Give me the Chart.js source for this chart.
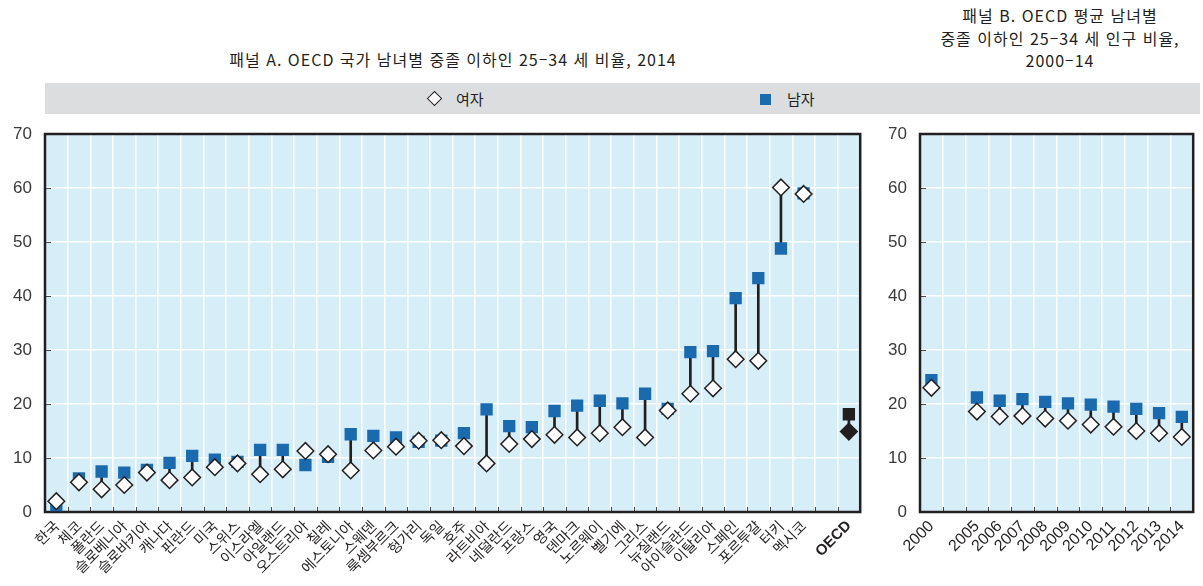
<!DOCTYPE html>
<html lang="ko">
<head>
<meta charset="utf-8">
<title>OECD 남녀별 중졸 이하 25-34 세 비율</title>
<script src="https://cdn.jsdelivr.net/npm/chart.js@4.4.1/dist/chart.umd.min.js"></script>
<style>
    html, body { margin: 0; padding: 0; background: #fff; }
    #page {
        position: relative;
        width: 1203px;
        height: 586px;
        overflow: hidden;
        font-family: "Noto Sans CJK KR", sans-serif;
        color: #231f20;
    }
    .title {
        position: absolute;
        text-align: center;
        font-size: 16px;
        letter-spacing: 1px;
        line-height: 22.5px;
        white-space: nowrap;
    }
    #title-a { left: 153px; width: 600px; top: 48px; }
    #title-b { left: 910px; width: 300px; top: 4px; }
    #band {
        position: absolute;
        left: 45px;
        top: 83px;
        width: 1155px;
        height: 31px;
        background: #dcdddf;
    }
    .legend-text {
        position: absolute;
        top: 88px;
        font-size: 15px;
        line-height: 22px;
    }
    .diamond {
        position: absolute;
        width: 9px;
        height: 9px;
        background: #fff;
        border: 1.5px solid #231f20;
        transform: rotate(45deg);
    }
    .square {
        position: absolute;
        width: 11px;
        height: 11px;
        background: #1a6aaf;
    }
    canvas { position: absolute; top: 0; }
</style>
</head>
<body>
<div id="page">
    <div id="title-a" class="title">패널 A. OECD 국가 남녀별 중졸 이하인 25–34 세 비율, 2014</div>
    <div id="title-b" class="title">패널 B. OECD 평균 남녀별<br>중졸 이하인 25–34 세 인구 비율,<br>2000–14</div>
    <div id="band"></div>
    <div class="diamond" style="left:429px; top:93px;"></div>
    <div class="legend-text" style="left:456px;">여자</div>
    <div class="square" style="left:760px; top:94px;"></div>
    <div class="legend-text" style="left:787px;">남자</div>
    <canvas id="chart-a" width="870" height="586" style="left:0;"></canvas>
    <canvas id="chart-b" width="333" height="586" style="left:870px;"></canvas>
</div>

<script>
// 패널 A: 국가별, 2014
const countries = ['한국', '체코', '폴란드', '슬로베니아', '슬로바키아', '캐나다', '핀란드', '미국',
    '스위스', '이스라엘', '아일랜드', '오스트리아', '칠레', '에스토니아', '스웨덴', '룩셈부르크',
    '헝가리', '독일', '호주', '라트비아', '네덜란드', '프랑스', '영국', '덴마크', '노르웨이',
    '벨기에', '그리스', '뉴질랜드', '아이슬란드', '이탈리아', '스페인', '포르투갈', '터키',
    '멕시코', '', 'OECD'];
const womenA = [2.0, 5.5, 4.2, 5.0, 7.3, 5.9, 6.4, 8.3, 9.0, 7.0, 7.9, 11.3, 10.7, 7.7, 11.4, 12.1,
    13.2, 13.3, 12.2, 9.0, 12.6, 13.5, 14.3, 13.8, 14.6, 15.7, 13.8, 18.8, 21.9, 22.9, 28.3, 28.0,
    60.1, 58.9, null, 14.9];
const menA = [1.3, 6.2, 7.5, 7.3, 7.8, 9.1, 10.4, 9.7, 9.3, 11.5, 11.5, 8.7, 10.2, 14.4, 14.1, 13.8,
    13.0, 13.2, 14.6, 19.0, 15.9, 15.7, 18.7, 19.7, 20.6, 20.1, 21.9, 19.1, 29.6, 29.8, 39.6, 43.3,
    48.8, 59.0, null, 18.1];

// 패널 B: OECD 평균, 2000-14
const years = ['2000', '', '2005', '2006', '2007', '2008', '2009', '2010', '2011', '2012', '2013', '2014'];
const womenB = [23.0, null, 18.6, 17.7, 17.8, 17.3, 16.9, 16.2, 15.8, 15.0, 14.6, 13.9];
const menB = [24.4, null, 21.2, 20.6, 20.9, 20.4, 20.1, 19.9, 19.5, 19.1, 18.3, 17.6];

const yTicks = [0, 10, 20, 30, 40, 50, 60, 70];

const BLUE = '#1a6aaf';
const INK = '#231f20';
const PLOT_BG = '#d6eef8';

// 플롯 배경, 테두리, 안쪽 눈금
const panelFrame = {
    id: 'panelFrame',
    beforeDraw(chart) {
        const { ctx, chartArea: a } = chart;
        ctx.save();
        ctx.fillStyle = PLOT_BG;
        ctx.fillRect(a.left, a.top, a.width, a.height);
        ctx.restore();
    },
    beforeDatasetsDraw(chart) {
        const { ctx, chartArea: a, scales } = chart;
        const n = scales.x.getLabels().length;
        const step = a.width / n;
        ctx.save();
        ctx.strokeStyle = '#4a4a4a';
        ctx.lineWidth = 1;
        ctx.beginPath();
        for (let i = 1; i < n; i++) {
            const px = Math.round(a.left + i * step) + 0.5;
            ctx.moveTo(px, a.bottom);
            ctx.lineTo(px, a.bottom - 5);
        }
        scales.y.ticks.forEach(t => {
            const py = Math.round(scales.y.getPixelForValue(t.value)) + 0.5;
            ctx.moveTo(a.left, py);
            ctx.lineTo(a.left + 6, py);
        });
        ctx.stroke();
        ctx.strokeStyle = INK;
        ctx.lineWidth = 2.5;
        ctx.strokeRect(a.left, a.top, a.width, a.height);
        ctx.restore();
    }
};

function makePanel(canvasId, labels, women, men, opts) {
    const lastIdx = labels.length - 1;
    const isTotal = i => opts.highlightLast && i === lastIdx;
    const ranges = women.map((w, i) =>
        (w == null || men[i] == null) ? null : [Math.min(w, men[i]), Math.max(w, men[i])]);

    return new Chart(document.getElementById(canvasId), {
        data: {
            labels: labels,
            datasets: [{
                type: 'line',
                label: '여자',
                data: women,
                showLine: false,
                pointStyle: 'rectRot',
                pointRadius: 8.3,
                pointBorderWidth: 1.5,
                pointBorderColor: INK,
                pointBackgroundColor: ctx => isTotal(ctx.dataIndex) ? INK : '#ffffff',
                order: 1
            }, {
                type: 'line',
                label: '남자',
                data: men,
                showLine: false,
                pointStyle: 'rect',
                pointRadius: 8.7,
                pointBorderWidth: 0,
                pointBorderColor: ctx => isTotal(ctx.dataIndex) ? INK : BLUE,
                pointBackgroundColor: ctx => isTotal(ctx.dataIndex) ? INK : BLUE,
                order: 2
            }, {
                type: 'bar',
                label: '차이',
                data: ranges,
                barThickness: 2,
                backgroundColor: INK,
                borderWidth: 0,
                borderSkipped: false,
                order: 3
            }]
        },
        options: {
            responsive: false,
            animation: false,
            events: [],
            layout: {
                padding: { top: 134, right: opts.padRight, left: 0, bottom: 0 }
            },
            plugins: {
                legend: { display: false },
                tooltip: { enabled: false }
            },
            scales: {
                x: {
                    type: 'category',
                    offset: true,
                    afterFit: s => { s.height = 74; },
                    border: { display: false },
                    grid: {
                        offset: true,
                        color: '#ffffff',
                        lineWidth: 1.5,
                        drawTicks: false
                    },
                    ticks: {
                        autoSkip: false,
                        minRotation: 45,
                        maxRotation: 45,
                        padding: 5,
                        color: INK,
                        font: ctx => (isTotal(ctx.index)
                            ? { family: 'Liberation Sans', size: 15, weight: 'bold' }
                            : opts.xFont)
                    }
                },
                y: {
                    min: 0,
                    max: 70,
                    afterFit: s => { s.width = opts.yWidth; },
                    afterBuildTicks: s => { s.ticks = yTicks.map(v => ({ value: v })); },
                    border: { display: false },
                    grid: {
                        color: '#ffffff',
                        lineWidth: 1.5,
                        drawTicks: false
                    },
                    ticks: {
                        padding: 13,
                        color: '#3a3a3a',
                        font: { family: 'Liberation Sans', size: 17 }
                    }
                }
            }
        },
        plugins: [panelFrame]
    });
}

makePanel('chart-a', countries, womenA, menA, {
    yWidth: 45,
    padRight: 8,
    highlightLast: true,
    xFont: { family: 'Noto Sans CJK KR', size: 14.5 }
});

makePanel('chart-b', years, womenB, menB, {
    yWidth: 50,
    padRight: 2,
    highlightLast: false,
    xFont: { family: 'Liberation Sans', size: 16 }
});
</script>
</body>
</html>
